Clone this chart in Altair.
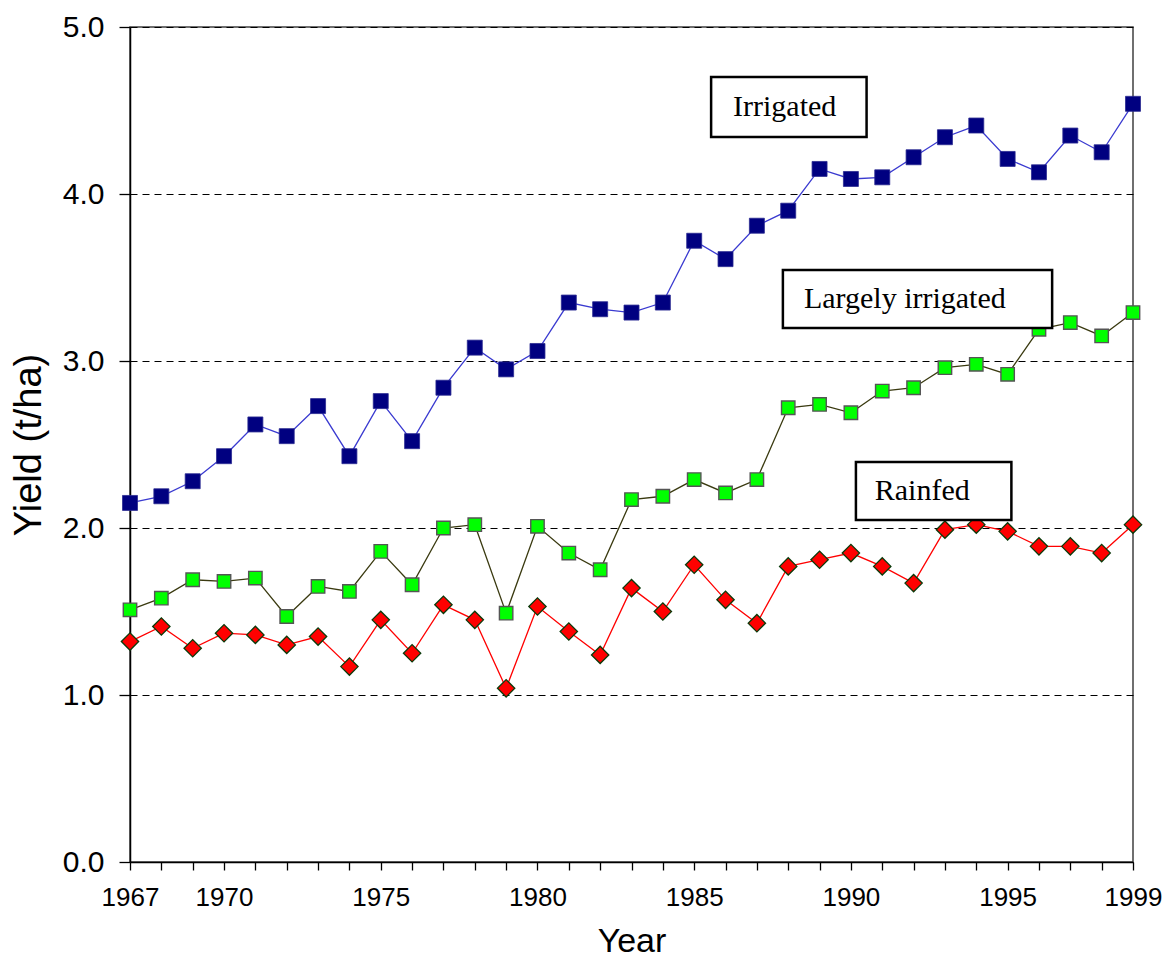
import altair as alt
import pandas as pd

years = list(range(1967, 2000))
irrigated = [2.15, 2.19, 2.28, 2.43, 2.62, 2.55, 2.73, 2.43, 2.76, 2.52, 2.84,
             3.08, 2.95, 3.06, 3.35, 3.31, 3.29, 3.35, 3.72, 3.61, 3.81, 3.90,
             4.15, 4.09, 4.10, 4.22, 4.34, 4.41, 4.21, 4.13, 4.35, 4.25, 4.54]
largely = [1.51, 1.58, 1.69, 1.68, 1.70, 1.47, 1.65, 1.62, 1.86, 1.66, 2.00,
           2.02, 1.49, 2.01, 1.85, 1.75, 2.17, 2.19, 2.29, 2.21, 2.29, 2.72,
           2.74, 2.69, 2.82, 2.84, 2.96, 2.98, 2.92, 3.19, 3.23, 3.15, 3.29]
rainfed = [1.32, 1.41, 1.28, 1.37, 1.36, 1.30, 1.35, 1.17, 1.45, 1.25, 1.54,
           1.45, 1.04, 1.53, 1.38, 1.24, 1.64, 1.50, 1.78, 1.57, 1.43, 1.77,
           1.81, 1.85, 1.77, 1.67, 1.99, 2.02, 1.98, 1.89, 1.89, 1.85, 2.02]

label_years = [1967, 1970, 1975, 1980, 1985, 1990, 1995, 1999]
y_ticks = [0, 1, 2, 3, 4, 5]

# annotation boxes (data coordinates)
box_names = ["Irrigated", "Largely irrigated", "Rainfed"]
box_x1 = [1985.54, 1987.83, 1990.16]
box_x2 = [1990.50, 1996.42, 1995.12]
box_y1 = [4.701, 3.545, 2.395]
box_y2 = [4.341, 3.198, 2.048]
text_x = [1986.24, 1988.50, 1990.76]
text_y = [4.467, 3.317, 2.168]

x_scale = alt.Scale(domain=[1967, 1999], nice=False, zero=False)
y_scale = alt.Scale(domain=[0, 5], nice=False)

label_expr = "indexof(" + str(label_years) + ", datum.value) >= 0 ? '' + datum.value : ''"

x_axis = alt.Axis(values=years, labelExpr=label_expr, title="Year", grid=False,
                  tickSize=8, labelPadding=14, labelFontSize=26, titleFontSize=34,
                  titlePadding=14, labelOverlap=False, labelFlush=False)
y_axis = alt.Axis(values=y_ticks, format=".1f", title="Yield (t/ha)", grid=True,
                  tickSize=11, labelPadding=15, labelFontSize=30, titleFontSize=38,
                  titlePadding=14, gridDash=[7, 5], gridColor="black", gridWidth=1)


def X(field):
    return alt.X(field, scale=x_scale, axis=x_axis)


def Y(field):
    return alt.Y(field, scale=y_scale, axis=y_axis)


def series(vals, name):
    return pd.DataFrame({"Year": years, "Yield": vals, "Series": name})


def layer(df, line_color, shape, fill, stroke, size, sw):
    base = alt.Chart(df)
    line = base.mark_line(color=line_color, strokeWidth=1.3).encode(
        x=X("Year:Q"), y=Y("Yield:Q"))
    pts = base.mark_point(shape=shape, filled=True, fill=fill, stroke=stroke,
                          strokeWidth=sw, size=size, opacity=1).encode(
        x=X("Year:Q"), y=Y("Yield:Q"))
    return line + pts


l_irr = layer(series(irrigated, "Irrigated"), "#3a3ad0", "square", "#000080",
              "#2a2a90", 225, 0.8)
l_lar = layer(series(largely, "Largely irrigated"), "#3a3a10", "square", "#00ff00",
              "#555555", 180, 1.4)
l_rain = layer(series(rainfed, "Rainfed"), "#ff0000", "diamond", "#ff0000",
               "#0a3a0a", 300, 1.3)

boxes = pd.DataFrame({"name": box_names, "x1": box_x1, "x2": box_x2,
                      "y1": box_y1, "y2": box_y2, "tx": text_x, "ty": text_y})

rects = alt.Chart(boxes).mark_rect(fill="white", stroke="black", strokeWidth=2.5).encode(
    x=X("x1:Q"), x2="x2:Q", y=Y("y1:Q"), y2="y2:Q")
texts = alt.Chart(boxes).mark_text(align="left", baseline="alphabetic",
                                   font="Liberation Serif", fontSize=30,
                                   color="black").encode(
    x=X("tx:Q"), y=Y("ty:Q"), text="name:N")

chart = alt.layer(l_irr, l_lar, l_rain, rects, texts).properties(
    width=1003, height=835,
    autosize=alt.AutoSizeParams(type="none"),
    padding={"left": 122, "top": 19, "right": 30, "bottom": 98},
    background="white",
).configure_view(
    stroke="#404040", strokeWidth=1.5
).configure_axis(
    domainColor="black", domainWidth=1.5, tickColor="black", tickWidth=1.3,
    labelColor="black", titleColor="black", labelFont="Liberation Sans",
    titleFont="Liberation Sans", titleFontWeight="normal"
)

chart.save("out.html", embed_options={"renderer": "svg", "actions": False})
